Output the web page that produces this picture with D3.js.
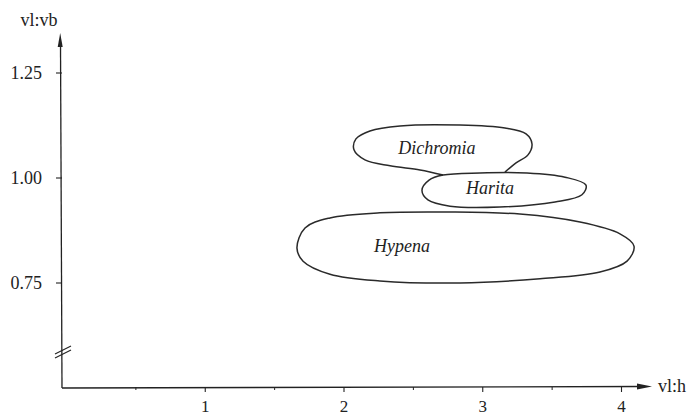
<!DOCTYPE html>
<html>
<head>
<meta charset="utf-8">
<script src="https://cdn.jsdelivr.net/npm/d3@7/dist/d3.min.js"></script>
<style>
  html, body { margin: 0; padding: 0; background: #fff; }
  svg { display: block; }
  text { font-family: "Liberation Serif", "DejaVu Serif", serif; fill: #222; }
</style>
</head>
<body>
<svg id="chart" width="697" height="417"></svg>
<script>
// Axis ticks
const xTicks = [1, 2, 3, 4];
const xMinorTicks = [0.5, 1.5, 2.5, 3.5];
const yTicks = [0.75, 1.00, 1.25];
const yTickLabels = ["0.75", "1.00", "1.25"];
const xAxisTitle = "vl:h";
const yAxisTitle = "vl:vb";

// Genus ranges: outlines in (vl:h, vl:vb)
const genera = ["Dichromia", "Harita", "Hypena"];
const dichromiaOutline = [
  [2.714, 1.007], [2.548, 1.019], [2.332, 1.029], [2.151, 1.043], [2.072, 1.067],
  [2.086, 1.093], [2.187, 1.112], [2.404, 1.124], [2.836, 1.126], [3.160, 1.119],
  [3.312, 1.105], [3.355, 1.081], [3.326, 1.055], [3.240, 1.036], [3.160, 1.014]
];
const haritaOutline = [
  [2.562, 0.971], [2.613, 0.995], [2.714, 1.007], [2.980, 1.012], [3.319, 1.012],
  [3.593, 1.002], [3.744, 0.983], [3.715, 0.960], [3.521, 0.943], [3.124, 0.931],
  [2.764, 0.933], [2.605, 0.948]
];
const hypenaOutline = [
  [1.661, 0.833], [1.719, 0.881], [1.899, 0.905], [2.259, 0.917], [2.764, 0.919],
  [3.268, 0.914], [3.701, 0.895], [3.989, 0.867], [4.090, 0.838], [4.040, 0.802],
  [3.845, 0.776], [3.413, 0.760], [2.836, 0.750], [2.259, 0.755], [1.899, 0.771],
  [1.705, 0.802]
];
const labelPositions = [[2.670, 1.071], [3.052, 0.976], [2.418, 0.838]];

const svg = d3.select("#chart");
const x = d3.scaleLinear().domain([0, 4]).range([66.5, 621.5]);
const y = d3.scaleLinear().domain([0.75, 1.25]).range([283, 73]);

const ink = "#222";
const axisX0 = 62, axisY0 = 387;

// x axis line with arrow
svg.append("line").attr("x1", axisX0).attr("y1", axisY0 + 1).attr("x2", 642).attr("y2", axisY0 - 0.5)
  .attr("stroke", ink).attr("stroke-width", 1.3);
svg.append("path").attr("d", `M652,${axisY0 - 0.5} L637,${axisY0 - 3.5} L637,${axisY0 + 2.5} Z`).attr("fill", ink);

// y axis line with arrow
svg.append("line").attr("x1", axisX0).attr("y1", axisY0 + 1).attr("x2", axisX0 - 1.5).attr("y2", 44)
  .attr("stroke", ink).attr("stroke-width", 1.3);
svg.append("path").attr("d", `M${axisX0 - 1.8},33 L${axisX0 - 4.3},47 L${axisX0 + 0.7},47 Z`).attr("fill", ink);

// axis break marks
[0, 4].forEach(d => {
  svg.append("line").attr("x1", 55).attr("y1", 354 + d).attr("x2", 71).attr("y2", 346 + d)
    .attr("stroke", ink).attr("stroke-width", 1.1);
});

// x ticks and labels
svg.selectAll(".xt").data(xTicks).join("line")
  .attr("x1", d => x(d)).attr("x2", d => x(d))
  .attr("y1", axisY0).attr("y2", axisY0 + 5)
  .attr("stroke", ink).attr("stroke-width", 1.1);
svg.selectAll(".xm").data(xMinorTicks).join("line")
  .attr("x1", d => x(d)).attr("x2", d => x(d))
  .attr("y1", axisY0).attr("y2", axisY0 + 3)
  .attr("stroke", ink).attr("stroke-width", 1);
svg.selectAll(".xl").data(xTicks).join("text")
  .attr("x", d => x(d)).attr("y", 412)
  .attr("text-anchor", "middle").attr("font-size", 17)
  .text(d => d);

// y ticks and labels
svg.selectAll(".yt").data(yTicks).join("line")
  .attr("x1", axisX0 - 6).attr("x2", axisX0)
  .attr("y1", d => y(d)).attr("y2", d => y(d))
  .attr("stroke", ink).attr("stroke-width", 1.1);
svg.selectAll(".yl").data(yTicks).join("text")
  .attr("x", 42).attr("y", d => y(d) + 6)
  .attr("text-anchor", "end").attr("font-size", 18)
  .text((d, i) => yTickLabels[i]);

// axis titles
svg.append("text").attr("x", 39).attr("y", 26).attr("text-anchor", "middle")
  .attr("font-size", 18).text(yAxisTitle);
svg.append("text").attr("x", 658).attr("y", 392).attr("font-size", 18).text(xAxisTitle);

// genus outlines
const closedLine = d3.line().x(d => x(d[0])).y(d => y(d[1])).curve(d3.curveCatmullRomClosed.alpha(0.5));
const openLine = d3.line().x(d => x(d[0])).y(d => y(d[1])).curve(d3.curveCatmullRom.alpha(0.5));

svg.append("path").attr("d", openLine(dichromiaOutline))
  .attr("fill", "none").attr("stroke", "#2a2a2a").attr("stroke-width", 1.5);
svg.append("path").attr("d", closedLine(haritaOutline))
  .attr("fill", "none").attr("stroke", "#2a2a2a").attr("stroke-width", 1.5);
svg.append("path").attr("d", closedLine(hypenaOutline))
  .attr("fill", "none").attr("stroke", "#2a2a2a").attr("stroke-width", 1.5);

svg.selectAll(".gl").data(genera).join("text")
  .attr("x", (d, i) => x(labelPositions[i][0]))
  .attr("y", (d, i) => y(labelPositions[i][1]) + 6)
  .attr("text-anchor", "middle").attr("font-size", 18).attr("font-style", "italic")
  .text(d => d);
</script>
</body>
</html>
